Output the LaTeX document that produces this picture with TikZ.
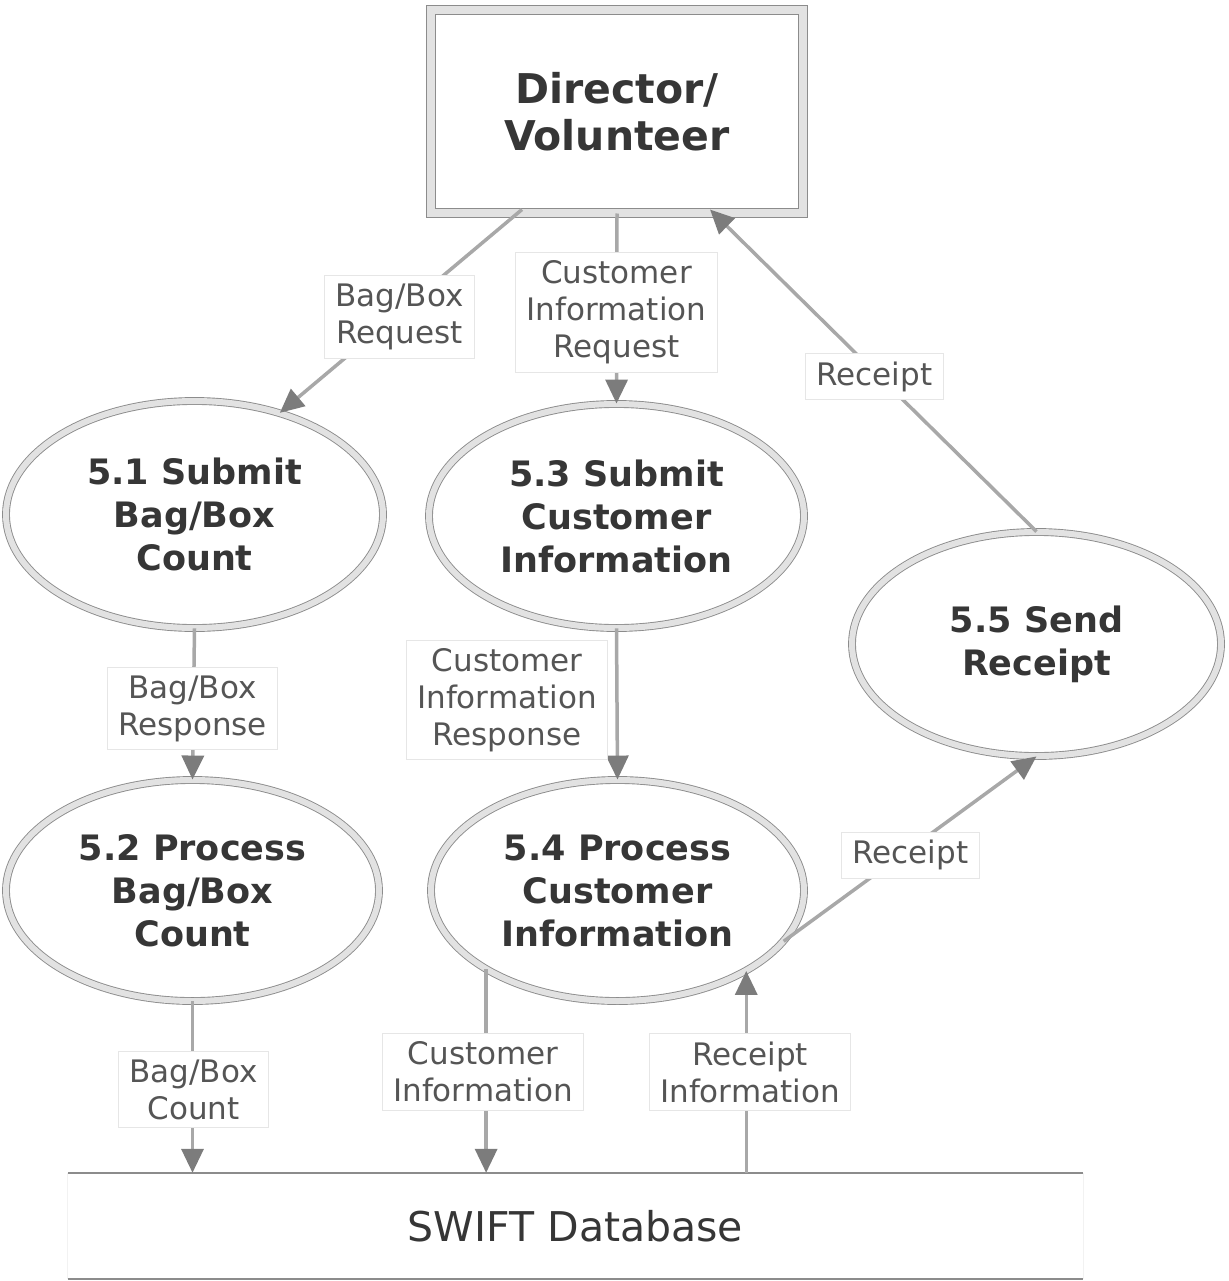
\documentclass[tikz,border=0pt]{standalone}
\usepackage{fontspec}
\setmainfont{DejaVu Sans}
\usetikzlibrary{shapes.geometric,arrows.meta,calc}
\definecolor{edgec}{HTML}{8C8C8C}
\definecolor{bandc}{HTML}{E2E2E2}
\definecolor{flowc}{HTML}{A8A8A8}
\definecolor{tipc}{HTML}{7C7C7C}
\definecolor{lbltext}{HTML}{555555}
\definecolor{boldtext}{HTML}{363636}
\definecolor{lblbox}{HTML}{E6E6E6}
\begin{document}
\begin{tikzpicture}[x=1pt,y=-1pt,
  proc/.style={ellipse, draw=edgec, double=bandc, double distance=6pt, line width=0.9pt,
    fill=white, inner sep=0pt, text=boldtext, font=\bfseries\fontsize{35}{43}\selectfont, align=center},
  ext/.style={rectangle, draw=edgec, double=bandc, double distance=8pt, line width=1pt,
    fill=white, inner sep=0pt, text=boldtext, font=\bfseries\fontsize{41}{47}\selectfont, align=center},
  flow/.style={draw=flowc, line width=3.5pt, -{Triangle[length=24pt,width=22pt,color=tipc]}},
  lbl/.style={fill=white, draw=lblbox, line width=1pt, text=lbltext,
    font=\fontsize{31}{37}\selectfont, align=center, inner xsep=11pt, inner ysep=8pt}]
\useasboundingbox (0,0) rectangle (1228,1281);

% external entity
\node[ext, minimum width=372pt, minimum height=203pt] (dir) at (617,111.5) {Director/\\Volunteer};

% processes
\node[proc, minimum width=377pt, minimum height=227pt] (e51) at (194.5,514.5) {5.1 Submit\\Bag/Box\\Count};
\node[proc, minimum width=375pt, minimum height=224pt] (e53) at (616.5,516) {5.3 Submit\\Customer\\Information};
\node[proc, minimum width=369pt, minimum height=224pt] (e55) at (1036.5,644) {5.5 Send\\Receipt};
\node[proc, minimum width=373pt, minimum height=221pt] (e52) at (192.5,890.5) {5.2 Process\\Bag/Box\\Count};
\node[proc, minimum width=373pt, minimum height=221pt] (e54) at (617.5,890.5) {5.4 Process\\Customer\\Information};

% data store
\node[minimum width=1015pt, minimum height=106pt, inner sep=0pt, text=boldtext,
  font=\fontsize{41}{48}\selectfont] (db) at (575.5,1226) {SWIFT Database};
\draw[black!5, line width=1pt] (db.north west) -- (db.south west) (db.north east) -- (db.south east);
\draw[edgec, line width=2.5pt] (db.north west) -- (db.north east);
\draw[edgec, line width=2.5pt] (db.south west) -- (db.south east);

% flows
\draw[flow] ($(dir.south)+(-95,-4)$) -- (e51.50);
\draw[flow] (dir.south) -- (e53.north);
\draw[flow] (e55.north) -- ($(dir.south)+(93,-4)$);
\draw[flow] (e51.south) -- (e52.north);
\draw[flow] (e53.south) -- (e54.north);
\draw[flow] (e54.-17) -- (e55.south);
\draw[flow] (e52.south) -- (e52.south |- db.north);
\draw[flow] (e54.211) -- (e54.211 |- db.north);
\draw[flow] (e54.-32 |- db.north) -- (e54.-32);

% flow labels
\node[lbl] (l1) at (399.5,317) {Bag/Box\\Request};
\node[lbl] (l2) at (616.5,312.5) {Customer\\Information\\Request};
\node[lbl] (l3) at (874.5,376.5) {Receipt};
\node[lbl] (l4) at (192.5,708.5) {Bag/Box\\Response};
\node[lbl] (l5) at (507,700) {Customer\\Information\\Response};
\node[lbl] (l6) at (910.5,855) {Receipt};
\node[lbl] (l7) at (193.5,1089.5) {Bag/Box\\Count};
\node[lbl] (l8) at (483,1072) {Customer\\Information};
\node[lbl] (l9) at (750,1072) {Receipt\\Information};
\end{tikzpicture}
\end{document}
